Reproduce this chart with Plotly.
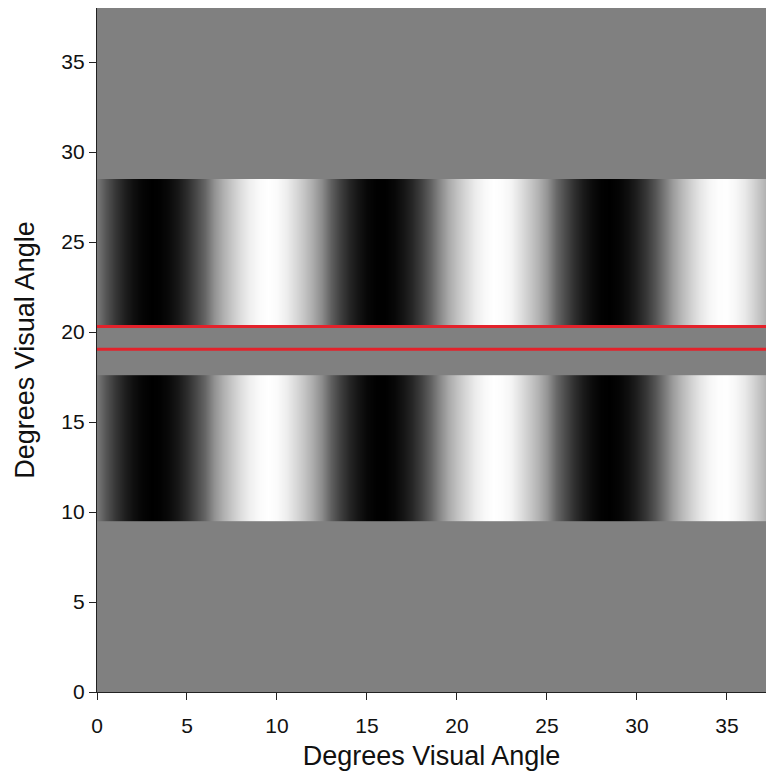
import plotly.graph_objects as go

# Horizontal sample positions (degrees visual angle)
x_deg = [0.0, 0.5, 1.0, 1.5, 2.0, 2.5, 3.0, 3.5, 4.0, 4.5,
         5.0, 5.5, 6.0, 6.5, 7.0, 7.5, 8.0, 8.5, 9.0, 9.5,
         10.0, 10.5, 11.0, 11.5, 12.0, 12.5, 13.0, 13.5, 14.0, 14.5,
         15.0, 15.5, 16.0, 16.5, 17.0, 17.5, 18.0, 18.5, 19.0, 19.5,
         20.0, 20.5, 21.0, 21.5, 22.0, 22.5, 23.0, 23.5, 24.0, 24.5,
         25.0, 25.5, 26.0, 26.5, 27.0, 27.5, 28.0, 28.5, 29.0, 29.5,
         30.0, 30.5, 31.0, 31.5, 32.0, 32.5, 33.0, 33.5, 34.0, 34.5,
         35.0, 35.5, 36.0, 36.5, 37.0, 37.5, 38.0]

# Grating luminance (0 = black, 255 = white) read along x
luminance = [120, 84, 55, 32, 15, 5, 0, 2, 10, 24,
             45, 72, 102, 145, 175, 200, 222, 240, 250, 255,
             250, 238, 218, 196, 170, 138, 95, 64, 38, 20,
             7, 1, 1, 7, 20, 38, 64, 95, 133, 168,
             194, 216, 236, 248, 255, 252, 244, 224, 202, 178,
             148, 105, 75, 47, 26, 11, 2, 0, 5, 15,
             32, 55, 84, 120, 157, 185, 209, 230, 245, 253,
             254, 246, 232, 209, 185, 157, 120]

# Vertical extents of the two grating patches (degrees)
band_bottoms = [9.5, 20.4]
band_tops = [17.6, 28.5]

# Red reference lines (degrees)
red_line_y = [20.3, 19.04]

x_range = [0, 37.17]
y_range = [0, 38]
tick_vals = [0, 5, 10, 15, 20, 25, 30, 35]

fig = go.Figure()

gray_scale = [[0.0, "#000000"], [1.0, "#ffffff"]]
for lo, hi in zip(band_bottoms, band_tops):
    mid = (lo + hi) / 2
    fig.add_trace(go.Heatmap(
        x=x_deg,
        y=[lo, mid, hi],
        z=[luminance, luminance],
        zmin=0, zmax=255,
        colorscale=gray_scale,
        zsmooth="best",
        showscale=False,
        hoverinfo="skip",
    ))

for yv in red_line_y:
    fig.add_trace(go.Scatter(
        x=[0, 38], y=[yv, yv],
        mode="lines",
        line=dict(color="#e3222b", width=3),
        showlegend=False,
        hoverinfo="skip",
    ))

font_family = "Liberation Sans, Arial, sans-serif"

# page body has an 8px margin, so the figure is sized to fit the window
fig.update_layout(
    width=758, height=763,
    margin=dict(l=89, r=0, t=0, b=79),
    paper_bgcolor="white",
    plot_bgcolor="#808080",
    showlegend=False,
    font=dict(family=font_family, color="#111111", size=21),
)

fig.update_xaxes(
    range=x_range,
    tickvals=tick_vals,
    ticks="outside", ticklen=7, tickwidth=1.2, tickcolor="#222222",
    ticklabelstandoff=8,
    showline=True, linecolor="#222222", linewidth=1.2, mirror=True,
    showgrid=False, zeroline=False,
    tickfont=dict(size=21),
    title=dict(text="Degrees Visual Angle", font=dict(size=27), standoff=10),
)
fig.update_yaxes(
    range=y_range,
    tickvals=tick_vals,
    ticks="outside", ticklen=7, tickwidth=1.2, tickcolor="#222222",
    showline=True, linecolor="#222222", linewidth=1.2,
    showgrid=False, zeroline=False,
    tickfont=dict(size=21),
    title=dict(text="Degrees Visual Angle", font=dict(size=27), standoff=18),
)

fig.write_html("out.html")
